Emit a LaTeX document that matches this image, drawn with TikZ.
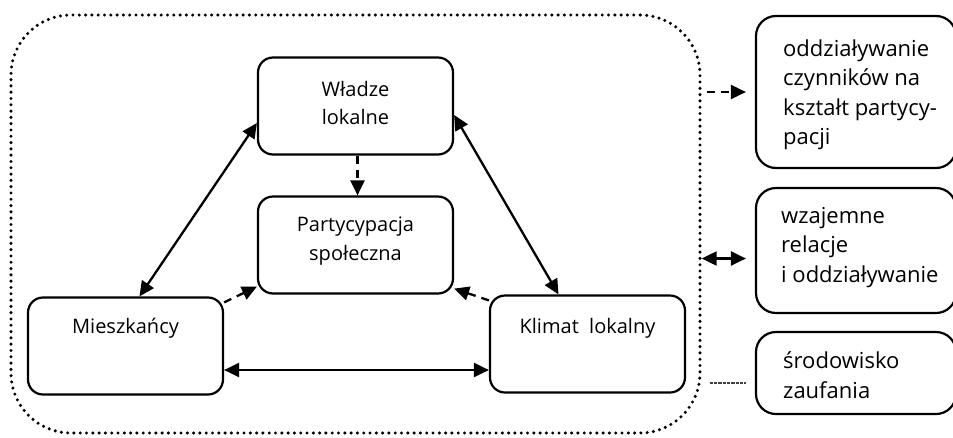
\documentclass[tikz,border=0pt]{standalone}
\usepackage{fontspec}
\setmainfont{Open Sans}
\usetikzlibrary{arrows.meta}

\tikzset{
  box/.style={draw, line width=2.2pt, rounded corners=15pt, inner sep=0pt,
    minimum width=195pt, minimum height=97pt},
  keybox/.style={draw, line width=2.2pt, rounded corners=20pt, inner sep=0pt,
    minimum width=200pt},
  frame/.style={draw, line width=3.4pt, line cap=round,
    dash pattern=on 0pt off 6.3pt, rounded corners=60pt, inner sep=0pt,
    minimum width=689pt, minimum height=418pt},
  txt/.style={font=\fontsize{20}{28.5}\selectfont, align=center, inner sep=0pt},
  keytxt/.style={font=\fontsize{22}{29.5}\selectfont, align=left, anchor=west, inner sep=0pt},
  tip/.style={-{Triangle[length=15pt,width=14pt]}},
  both/.style={{Triangle[length=15pt,width=14pt]}-{Triangle[length=15pt,width=14pt]}},
  link/.style={line width=2.3pt},
  dlink/.style={line width=2.3pt, dash pattern=on 8pt off 6pt},
}

\begin{document}
\begin{tikzpicture}[x=1pt, y=-1pt]
  \useasboundingbox (0,0) rectangle (953,437);

  % enclosing dotted frame
  \node[frame] (frm) at (355.5,224) {};

  % the four factors
  \node[box] (wla) at (355.5,106) {};
  \node[txt] (wlat) at (355.5,103) {Władze\\lokalne};
  \node[box] (par) at (355.5,245) {};
  \node[txt] (part) at (355.5,241) {Partycypacja\\społeczna};
  \node[box] (mie) at (125.5,346) {};
  \node[txt] (miet) at (125.5,328) {Mieszkańcy};
  \node[box] (kli) at (587.5,344) {};
  \node[txt] (klit) at (587.5,328) {Klimat\ \ lokalny};

  % mutual relations
  \draw[link, both] ([yshift=-17pt]wla.west) -- ([xshift=14pt]mie.north);
  \draw[link, both] ([yshift=-9pt]wla.east) -- ([xshift=-29pt]kli.north);
  \draw[link, both] ([yshift=-24pt]mie.east) -- ([yshift=-26pt]kli.west);

  % influence on participation
  \draw[dlink, tip] ([xshift=2pt]wla.south) -- ([xshift=2pt]par.north);
  \draw[dlink, tip] ([yshift=-6pt]mie.north east) -- ([yshift=8pt]par.south west);
  \draw[dlink, tip] ([yshift=-6pt]kli.north west) -- ([yshift=6pt]par.south east);

  % key
  \node[keybox, minimum height=152pt] (k1) at (856,92) {};
  \node[keytxt] (k1t) at (783,95) {oddziaływanie\\czynników na\\kształt partycy-\\pacji};
  \node[keybox, minimum height=125pt] (k2) at (856,250.5) {};
  \node[keytxt] (k2t) at (781,247.5) {wzajemne\\relacje\\i oddziaływanie};
  \node[keybox, minimum height=82pt] (k3) at (856,373) {};
  \node[keytxt] (k3t) at (783,375) {środowisko\\zaufania};

  \draw[dlink, tip, shorten <=5pt, shorten >=9pt] (frm.east |- k1.west) -- (k1.west);
  \draw[link, both, shorten >=9pt] ([yshift=-8pt]frm.east |- k2.west) -- ([yshift=-8pt]k2.west);
  \draw[line width=1.3pt, black!75, dash pattern=on 0.8pt off 0.5pt, shorten <=8pt, shorten >=10pt]
    ([yshift=-10pt]frm.east |- k3.west) -- ([yshift=-10pt]k3.west);
\end{tikzpicture}
\end{document}
